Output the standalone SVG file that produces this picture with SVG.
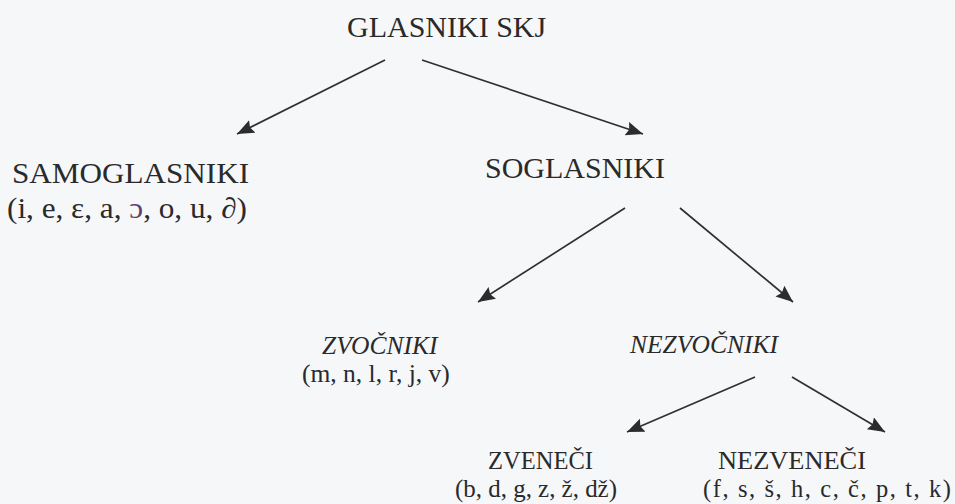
<svg xmlns="http://www.w3.org/2000/svg" width="955" height="504" viewBox="0 0 955 504">
  <style>
    .t { font-family: "Liberation Serif", "Times New Roman", "DejaVu Serif", serif; fill: #2a2a2a; }
    .h { font-size: 30px; }
    .s { font-size: 25.5px; }
    .b { font-size: 24.5px; }
    .i { font-style: italic; }
    .edge { stroke: #303030; stroke-width: 1.7; fill: none; marker-end: url(#head); }
  </style>
  <defs>
    <marker id="head" markerUnits="userSpaceOnUse" markerWidth="20" markerHeight="16" refX="17" refY="7" orient="auto">
      <path d="M0,0 L17,7 L0,14 L2.5,7 Z" fill="#2c2c2c"/>
    </marker>
  </defs>
  <rect width="955" height="504" fill="#f6f7f9"/>

  <g id="connectors">
    <line class="edge" x1="385" y1="60" x2="237" y2="134"/>
    <line class="edge" x1="422" y1="60" x2="643" y2="134"/>
    <line class="edge" x1="625" y1="208" x2="478" y2="302"/>
    <line class="edge" x1="680" y1="208" x2="793" y2="302"/>
    <line class="edge" x1="755" y1="377" x2="627" y2="432"/>
    <line class="edge" x1="792" y1="377" x2="885" y2="432"/>
  </g>

  <g id="glasniki">
    <text class="t h" x="347" y="37">GLASNIKI SKJ</text>
  </g>

  <g id="samoglasniki">
    <text class="t h" x="12" y="183" textLength="237" lengthAdjust="spacingAndGlyphs">SAMOGLASNIKI</text>
    <text class="t" x="7" y="218" font-size="29" textLength="240" lengthAdjust="spacingAndGlyphs">(i, e, ε, a, <tspan fill="#5e3f72">ɔ</tspan>, o, u, <tspan font-style="italic">∂</tspan>)</text>
  </g>

  <g id="soglasniki">
    <text class="t h" x="485" y="178">SOGLASNIKI</text>
  </g>

  <g id="zvocniki">
    <text class="t s i" x="322" y="354">ZVOČNIKI</text>
    <text class="t s" x="302" y="382">(m, n, l, r, j, v)</text>
  </g>

  <g id="nezvocniki">
    <text class="t s i" x="630" y="353">NEZVOČNIKI</text>
  </g>

  <g id="zveneci">
    <text class="t b" x="488" y="469" textLength="105" lengthAdjust="spacingAndGlyphs">ZVENEČI</text>
    <text class="t b" x="455" y="497" textLength="162" lengthAdjust="spacingAndGlyphs">(b, d, g, z, ž, dž)</text>
  </g>

  <g id="nezveneci">
    <text class="t b" x="718" y="469" textLength="148" lengthAdjust="spacingAndGlyphs">NEZVENEČI</text>
    <text class="t b" x="703" y="497" textLength="248" lengthAdjust="spacing">(f, s, š, h, c, č, p, t, k)</text>
  </g>
</svg>
